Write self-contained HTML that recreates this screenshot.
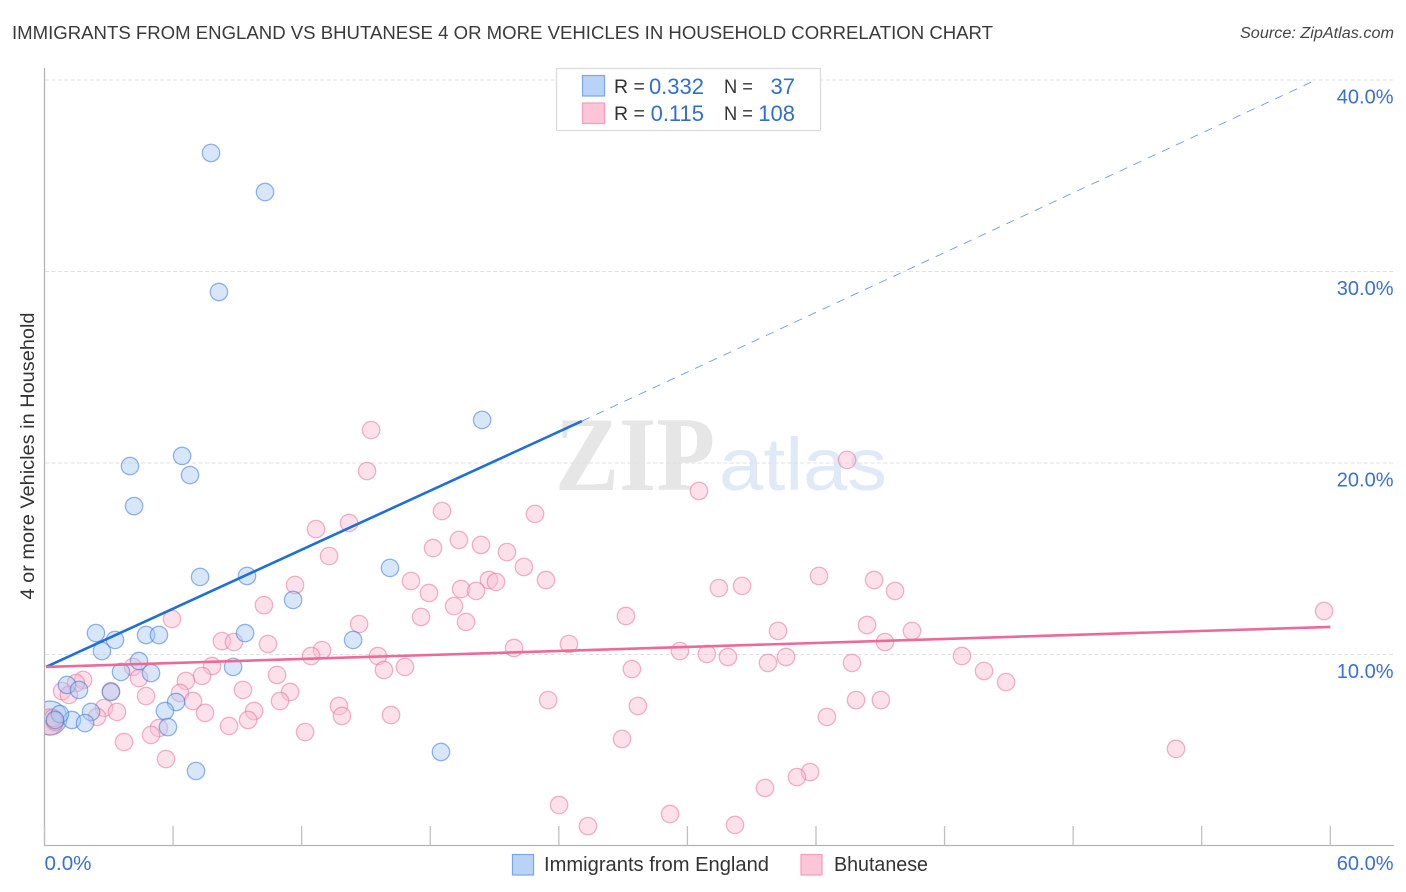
<!DOCTYPE html>
<html lang="en">
<head>
<meta charset="utf-8">
<title>Immigrants from England vs Bhutanese 4 or more Vehicles in Household Correlation Chart</title>
<style>
html,body{margin:0;padding:0;background:#fff;}
svg{display:block;font-family:"Liberation Sans",sans-serif;}
</style>
</head>
<body>
<svg id="chart" width="1406" height="892" viewBox="0 0 1406 892" xmlns="http://www.w3.org/2000/svg">
  <defs><clipPath id="plot-clip"><rect x="45" y="60" width="1350" height="786"/></clipPath></defs>
  <rect x="0" y="0" width="1406" height="892" fill="#fff"/>
  <text x="12" y="39" font-size="18.6" fill="#3a3a3a" textLength="981" lengthAdjust="spacingAndGlyphs">IMMIGRANTS FROM ENGLAND VS BHUTANESE 4 OR MORE VEHICLES IN HOUSEHOLD CORRELATION CHART</text>
  <text x="1394" y="38" font-size="15.5" font-style="italic" fill="#444" text-anchor="end" textLength="154" lengthAdjust="spacingAndGlyphs">Source: ZipAtlas.com</text>

  <g id="watermark">
    <text x="555" y="490" font-family="'Liberation Serif',serif" font-weight="bold" font-size="106" fill="#e6e6e6" textLength="160" lengthAdjust="spacingAndGlyphs">ZIP</text>
    <text x="719" y="490" font-size="74" fill="#dfe9f8" textLength="168" lengthAdjust="spacingAndGlyphs">atlas</text>
  </g>

  <g id="grid"></g>
  <g id="axes"></g>
  <g id="dots" clip-path="url(#plot-clip)"></g>
  <g id="trends"></g>
  <g id="labels"></g>

  <text transform="translate(34,456) rotate(-90)" font-size="19" fill="#333" text-anchor="middle" textLength="287" lengthAdjust="spacingAndGlyphs">4 or more Vehicles in Household</text>

  <g>
    <rect x="556.5" y="68.5" width="264" height="62" fill="#fff" stroke="#dcdcdc" stroke-width="1.3"/>
    <rect x="582.5" y="75.5" width="22" height="20.5" fill="#b8d3f6" stroke="#7aa6e4" stroke-width="1.2"/>
    <rect x="582.5" y="103" width="22" height="20.5" fill="#fcc5d8" stroke="#f0a0ba" stroke-width="1.2"/>
    <g font-size="19.5" fill="#333">
      <text x="614" y="93">R =</text>
      <text x="724" y="93" textLength="29" lengthAdjust="spacingAndGlyphs">N =</text>
      <text x="614" y="120">R =</text>
      <text x="724" y="120" textLength="29" lengthAdjust="spacingAndGlyphs">N =</text>
    </g>
    <g font-size="22" fill="#2f6fd0" text-anchor="end">
      <text x="704" y="94">0.332</text>
      <text x="795" y="94">37</text>
      <text x="704" y="121">0.115</text>
      <text x="795" y="121">108</text>
    </g>
  </g>

  <g>
    <rect x="512.5" y="854.5" width="21" height="20.5" fill="#b8d3f6" stroke="#7aa6e4" stroke-width="1.2"/>
    <text x="544" y="871" font-size="20" fill="#333" textLength="225" lengthAdjust="spacingAndGlyphs">Immigrants from England</text>
    <rect x="801" y="854.5" width="21" height="20.5" fill="#fcc5d8" stroke="#f0a0ba" stroke-width="1.2"/>
    <text x="834" y="871" font-size="20" fill="#333" textLength="94" lengthAdjust="spacingAndGlyphs">Bhutanese</text>
  </g>
</svg>
<script>
const xTickValues = [0, 6, 12, 18, 24, 30, 36, 42, 48, 54, 60];
const xTickLabels = ["0.0%", "60.0%"];
const yTickValues = [10, 20, 30, 40];
const yTickLabels = ["10.0%", "20.0%", "30.0%", "40.0%"];

const englandX = [7.77,10.29,8.14,20.42,3.99,6.42,6.79,4.18,7.26,9.45,16.12,11.60,2.40,3.29,4.74,5.34,9.36,14.40,2.68,4.41,3.57,4.97,8.80,1.05,1.61,3.10,6.14,2.17,5.62,5.76,1.28,1.89,0.72,0.49,18.50,7.07];
const englandY = [36.19,34.15,28.93,22.25,19.84,20.37,19.37,17.75,14.05,14.10,14.52,12.85,11.12,10.76,11.02,11.02,11.12,10.76,10.18,9.66,9.09,9.03,9.35,8.41,8.15,8.04,7.52,7.00,7.05,6.21,6.58,6.42,6.89,6.58,4.91,3.92];
const englandLargeX = [0.26];
const englandLargeY = [6.68];

const bhutaneseX = [15.24,15.05,37.45,30.54,18.55,22.89,14.21,12.67,19.34,18.13,20.37,21.58,13.28,22.37,17.10,23.40,20.74,21.07,11.69,19.44,20.14,17.94,31.47,32.55,36.14,38.71,39.69,59.71,10.24,19.11,5.95,17.57,19.67,14.68,27.13,38.38,34.23,40.48,8.28,8.84,10.43,12.95,12.44,24.47,21.91,29.65,30.91,31.89,34.60,39.22,15.56,33.76,37.68,42.81,7.82,15.84,16.82,27.41,43.84,4.13,44.87,10.85,7.35,6.60,4.41,1.80,1.47,0.82,1.14,6.32,3.10,4.74,9.26,11.46,10.99,6.93,13.74,23.50,27.69,37.87,39.03,2.78,3.38,7.49,9.78,9.50,13.88,16.17,36.51,5.34,4.97,8.61,12.16,2.45,3.71,26.95,5.67,52.80,35.72,35.11,33.62,24.01,29.19,25.36,32.22,0.49,0.40];
const bhutaneseY = [21.72,19.58,20.16,18.54,17.49,17.34,16.87,16.55,15.98,15.56,15.72,15.35,15.14,14.57,13.84,13.89,13.89,13.79,13.63,13.42,13.32,13.21,13.47,13.58,14.10,13.89,13.32,12.27,12.58,12.53,11.85,11.96,11.70,11.59,12.01,11.54,11.23,11.23,10.70,10.65,10.55,10.23,9.92,10.55,10.34,10.18,10.03,9.87,9.87,10.65,9.92,9.56,9.56,9.92,9.40,9.19,9.35,9.24,9.14,9.35,8.56,8.93,8.88,8.62,8.77,8.67,8.51,8.09,7.89,7.99,8.09,7.83,8.15,8.04,7.57,7.57,7.31,7.62,7.31,7.62,7.62,7.21,7.00,6.95,7.05,6.58,6.79,6.84,6.74,6.16,5.80,6.27,5.95,6.74,5.43,5.59,4.54,5.07,3.86,3.60,3.03,2.14,1.67,1.04,1.10,6.48,6.68];
const bhutaneseLargeX = [0.26];
const bhutaneseLargeY = [6.48];

const englandTrendX = [0.07, 25.08];
const englandTrendY = [9.35, 22.19];
const englandForecastX = [25.08, 59.33];
const englandForecastY = [22.19, 40.0];
const bhutaneseTrendX = [0.07, 60.0];
const bhutaneseTrendY = [9.35, 11.44];

const NS = 'http://www.w3.org/2000/svg';
const X0 = 44.5, XK = 21.43, Y0 = 846, YK = 19.15;
function sx(v) { return X0 + v * XK; }
function sy(v) { return Y0 - v * YK; }
function make(tag, attrs, parent) {
  const el = document.createElementNS(NS, tag);
  for (const k in attrs) el.setAttribute(k, attrs[k]);
  parent.appendChild(el);
  return el;
}
const grid = document.getElementById('grid');
const axes = document.getElementById('axes');
const dots = document.getElementById('dots');
const trends = document.getElementById('trends');
const labels = document.getElementById('labels');

yTickValues.forEach(function (v, i) {
  const line = make('line', {x1: 45, x2: 1394, y1: sy(v), y2: sy(v), stroke: '#e0e0e0', 'stroke-width': 1, 'stroke-dasharray': '4 2.4'}, grid);
  
  
  const t = make('text', {x: 1393.5, y: sy(v) + 23.5, 'font-size': 20, fill: '#3a70d2', 'text-anchor': 'end'}, labels);
  t.textContent = yTickLabels[i];
  
  
});

const yAxis = make('line', {x1: 44.5, x2: 44.5, y1: 68, y2: 846, stroke: '#b4b4b4', 'stroke-width': 1.3}, axes);


const xAxis = make('line', {x1: 44, x2: 1394, y1: 845.5, y2: 845.5, stroke: '#b4b4b4', 'stroke-width': 1.3}, axes);


xTickValues.forEach(function (v) {
  const tick = make('line', {x1: sx(v), x2: sx(v), y1: 826, y2: 845, stroke: '#c0c0c0', 'stroke-width': 1.3}, axes);
  
  
});
const xMin = make('text', {x: sx(xTickValues[0]), y: 870, 'font-size': 20, fill: '#3a70d2', textLength: 47, lengthAdjust: 'spacingAndGlyphs'}, labels);
xMin.textContent = xTickLabels[0];


const xMax = make('text', {x: 1393.5, y: 870, 'font-size': 20, fill: '#3a70d2', 'text-anchor': 'end'}, labels);
xMax.textContent = xTickLabels[1];



function drawDots(xs, ys, r, fill, stroke) {
  xs.forEach(function (v, i) {
    const c = make('circle', {cx: sx(v), cy: sy(ys[i]), r: r, fill: fill, 'fill-opacity': 0.46, stroke: stroke, 'stroke-opacity': 0.52, 'stroke-width': 1.3}, dots);
    
    
  });
}
drawDots(englandLargeX, englandLargeY, 17, '#a9c8f3', '#2f75d6');
drawDots(bhutaneseLargeX, bhutaneseLargeY, 13, '#f7b2ca', '#e56f98');
drawDots(bhutaneseX, bhutaneseY, 8.7, '#f9bdd1', '#e56f98');
drawDots(englandX, englandY, 8.7, '#a9c8f3', '#2f75d6');

function drawTrend(xs, ys, color, width, dash, name) {
  const attrs = {x1: sx(xs[0]), y1: sy(ys[0]), x2: sx(xs[1]), y2: sy(ys[1]), stroke: color, 'stroke-width': width};
  if (dash) attrs['stroke-dasharray'] = dash;
  const l = make('line', attrs, trends);
  
  
}
drawTrend(englandForecastX, englandForecastY, '#6f9ae0', 0.9, '8.5 7.1', 'england-forecast-line');
drawTrend(englandTrendX, englandTrendY, '#1f6fd8', 2.6, null, 'england-trend-line');
drawTrend(bhutaneseTrendX, bhutaneseTrendY, '#ec6a98', 2.6, null, 'bhutanese-trend-line');
</script>
</body>
</html>
